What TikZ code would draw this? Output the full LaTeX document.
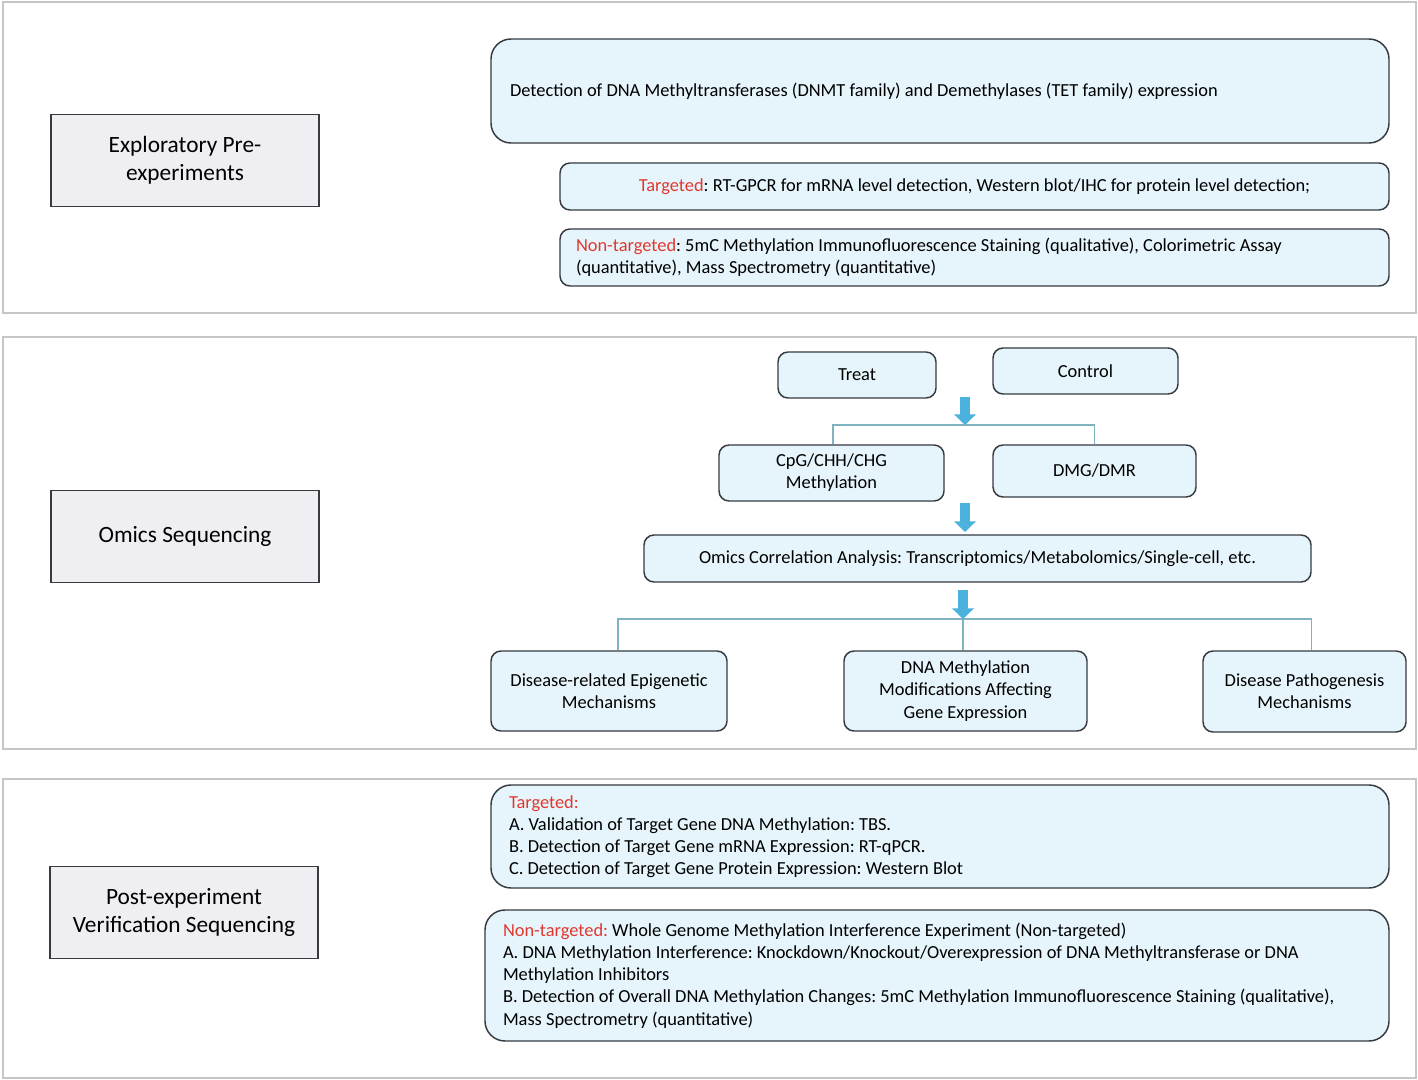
\documentclass[tikz,border=0pt]{standalone}
\usepackage{fontspec}
\setmainfont{Carlito}
\usetikzlibrary{arrows.meta}
\definecolor{dark}{HTML}{353B40}
\definecolor{lblue}{HTML}{E6F5FB}
\definecolor{lgray}{HTML}{EFEFF3}
\definecolor{pgray}{HTML}{C6C6C6}
\definecolor{redt}{HTML}{E0382F}
\definecolor{ablue}{HTML}{4AB2DD}
\definecolor{bline}{HTML}{7FB3BF}
\newcommand{\bx}{\frenchspacing\fontsize{13.8}{16.6}\selectfont}
\newcommand{\lx}{\fontsize{17.5}{21}\selectfont}
\begin{document}
\begin{tikzpicture}[x=0.75pt,y=-0.75pt,
  panel/.style={draw=pgray,line width=1.4pt},
  labelbox/.style={draw=dark,fill=lgray,line width=1.1pt,align=center,font=\lx,inner sep=0pt},
  bluebox/.style={draw=dark,fill=lblue,line width=1.1pt,rounded corners=7.5pt,align=center,font=\bx,inner sep=0pt},
  bigbox/.style={bluebox,rounded corners=15pt,align=flush left},
  barrow/.style={draw=ablue,line width=7.5pt,-{Triangle[width=16pt,length=8pt]}},
  branch/.style={draw=bline,line width=1pt}]
\useasboundingbox (0,0) rectangle (1418,1080);
\fill[white] (0,0) rectangle (1418,1080);
% panels
\draw[panel] (3,2) rectangle (1416,313);
\draw[panel] (3,337) rectangle (1416,749);
\draw[panel] (3,779) rectangle (1416,1078);
% left labels
\node[labelbox,minimum width=201pt,minimum height=69pt] (L1) at (185,160.5) {Exploratory Pre-\\experiments};
\node[labelbox,minimum width=201pt,minimum height=69pt] (L2) at (185,536.5) {Omics Sequencing};
\node[labelbox,minimum width=201pt,minimum height=69pt] (L3) at (184,912.5) {Post-experiment\\Verification Sequencing};
% panel 1
\node[bigbox,minimum width=673.5pt,minimum height=78pt,text width=645pt,inner xsep=14.25pt] (B1) at (940,91) {Detection of DNA Methyltransferases (DNMT family) and Demethylases (TET family) expression};
\node[bluebox,minimum width=621.75pt,minimum height=35.25pt] (B2) at (974.5,186.5) {\textcolor{redt}{Targeted}: RT-GPCR for mRNA level detection, Western blot/IHC for protein level detection;};
\node[bluebox,align=flush left,minimum width=621.75pt,minimum height=42.75pt,text width=597.75pt,inner xsep=12pt] (B3) at (974.5,257.5) {\textcolor{redt}{Non-targeted}: 5mC Methylation Immunofluorescence Staining (qualitative), Colorimetric Assay\\(quantitative), Mass Spectrometry (quantitative)};
% panel 2
\node[bluebox,minimum width=118.5pt,minimum height=34.5pt] (treat) at (857,375) {Treat};
\node[bluebox,minimum width=138.75pt,minimum height=34.5pt] (control) at (1085.5,371) {Control};
\node[bluebox,minimum width=168.75pt,minimum height=42pt] (cpg) at (831.5,473) {CpG/CHH/CHG\\Methylation};
\node[bluebox,minimum width=152.25pt,minimum height=39pt] (dmg) at (1094.5,471) {DMG/DMR};
\node[bluebox,minimum width=500.25pt,minimum height=35.25pt] (omics) at (977.5,558.5) {Omics Correlation Analysis: Transcriptomics/Metabolomics/Single-cell, etc.};
\node[bluebox,minimum width=177pt,minimum height=60pt] (disrel) at (609,691) {Disease-related Epigenetic\\Mechanisms};
\node[bluebox,minimum width=182.25pt,minimum height=60pt] (dnameth) at (965.5,691) {DNA Methylation\\Modifications Affecting\\Gene Expression};
\node[bluebox,minimum width=152.25pt,minimum height=60.75pt] (dispath) at (1304.5,691.5) {Disease Pathogenesis\\Mechanisms};
% connectors
\coordinate (a1s) at (965,397);
\coordinate (j1) at (965,425);
\coordinate (a2s) at (965,503);
\coordinate (a2e) at (965,532);
\coordinate (a3s) at (963,590);
\coordinate (j2) at (963,619);
\draw[branch] ([xshift=1.2pt]cpg.north) |- (j1) -| (dmg.north);
\draw[branch] ([xshift=6.75pt]disrel.north) |- (j2) -| ([xshift=5pt]dispath.north);
\draw[branch] (j2) -- (j2 |- dnameth.north);
\draw[barrow] (a1s) -- (j1);
\draw[barrow] (a2s) -- (a2e);
\draw[barrow] (a3s) -- (j2);
% panel 3
\node[bigbox,minimum width=673.5pt,minimum height=77.25pt,text width=646.5pt,inner xsep=13.5pt] (T) at (940,836.5) {\textcolor{redt}{Targeted:}\\A. Validation of Target Gene DNA Methylation: TBS.\\B. Detection of Target Gene mRNA Expression: RT-qPCR.\\C. Detection of Target Gene Protein Expression: Western Blot};
\node[bigbox,minimum width=678pt,minimum height=98.25pt,text width=651pt,inner xsep=13.5pt] (NT) at (937,975.5) {\textcolor{redt}{Non-targeted:} Whole Genome Methylation Interference Experiment (Non-targeted)\\A. DNA Methylation Interference: Knockdown/Knockout/Overexpression of DNA Methyltransferase or DNA\\Methylation Inhibitors\\B. Detection of Overall DNA Methylation Changes: 5mC Methylation Immunofluorescence Staining (qualitative),\\Mass Spectrometry (quantitative)};
\end{tikzpicture}
\end{document}
